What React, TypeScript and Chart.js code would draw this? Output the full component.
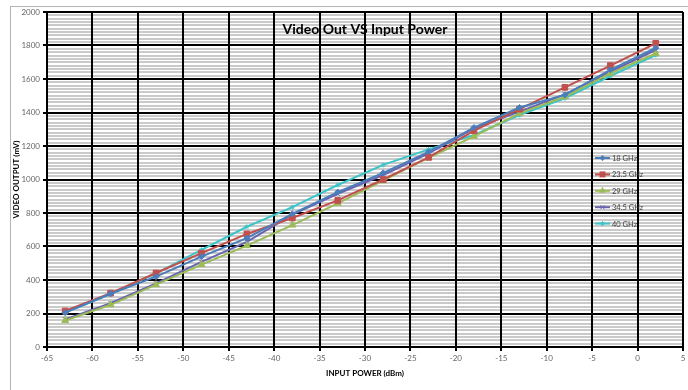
import React, { useEffect, useRef } from 'react';
import { Chart, registerables } from 'chart.js';

Chart.register(...registerables);

const inputPower = [-63, -58, -53, -48, -43, -38, -33, -28, -23, -18, -13, -8, -3, 2];
const seriesNames = ['18 GHz', '23.5 GHz', '29 GHz', '34.5 GHz', '40 GHz'];
const out18 = [205, 318, 420, 540, 650, 795, 925, 1040, 1165, 1310, 1430, 1505, 1655, 1785];
const out235 = [215, 322, 442, 560, 675, 770, 875, 1000, 1132, 1292, 1420, 1550, 1680, 1813];
const out29 = [158, 252, 372, 492, 605, 728, 858, 993, 1130, 1258, 1395, 1494, 1634, 1752];
const out345 = [165, 262, 380, 508, 628, 790, 915, 1027, 1156, 1305, 1405, 1508, 1644, 1773];
const out40 = [205, 316, 440, 580, 718, 835, 967, 1087, 1180, 1266, 1385, 1485, 1618, 1743];
const seriesValues = [out18, out235, out29, out345, out40];

const chartTitle = 'Video Out VS Input Power';
const xAxisTitle = 'INPUT POWER (dBm)';
const yAxisTitle = 'VIDEO OUTPUT (mV)';

const colors = ['#4a7ebb', '#c0504d', '#9bbb59', '#6a64b0', '#3cc4c8'];
const pointStyles = ['rectRot', 'rect', 'triangle', 'crossRot', 'star'];
const pointRadii = [3, 4, 4, 3, 2.5];

function drawMarker(ctx: CanvasRenderingContext2D, style: string, x: number, y: number, r: number, color: string) {
  ctx.save();
  ctx.fillStyle = color;
  ctx.strokeStyle = color;
  ctx.lineWidth = 1;
  ctx.beginPath();
  if (style === 'rectRot') {
    ctx.moveTo(x, y - r); ctx.lineTo(x + r, y); ctx.lineTo(x, y + r); ctx.lineTo(x - r, y); ctx.closePath();
    ctx.fill();
  } else if (style === 'rect') {
    ctx.rect(x - r * 0.75, y - r * 0.75, r * 1.5, r * 1.5);
    ctx.fill();
  } else if (style === 'triangle') {
    ctx.moveTo(x, y - r); ctx.lineTo(x + r * 0.87, y + r * 0.5); ctx.lineTo(x - r * 0.87, y + r * 0.5); ctx.closePath();
    ctx.fill();
  } else if (style === 'crossRot') {
    ctx.moveTo(x - r * 0.7, y - r * 0.7); ctx.lineTo(x + r * 0.7, y + r * 0.7);
    ctx.moveTo(x + r * 0.7, y - r * 0.7); ctx.lineTo(x - r * 0.7, y + r * 0.7);
    ctx.stroke();
  } else {
    ctx.moveTo(x - r, y); ctx.lineTo(x + r, y);
    ctx.moveTo(x, y - r); ctx.lineTo(x, y + r);
    ctx.moveTo(x - r * 0.7, y - r * 0.7); ctx.lineTo(x + r * 0.7, y + r * 0.7);
    ctx.moveTo(x + r * 0.7, y - r * 0.7); ctx.lineTo(x - r * 0.7, y + r * 0.7);
    ctx.stroke();
  }
  ctx.restore();
}

const decorPlugin = {
  id: 'decor',
  afterDraw(chart: any) {
    const ctx: CanvasRenderingContext2D = chart.ctx;
    const a = chart.chartArea;
    ctx.save();
    ctx.strokeStyle = '#b4b4b4';
    ctx.lineWidth = 1;
    ctx.strokeRect(10.5, 6.5, 800, 500);

    ctx.fillStyle = '#000';
    ctx.textAlign = 'center';
    ctx.textBaseline = 'middle';
    ctx.font = 'bold 14px Lato';
    ctx.fillText(chartTitle, (a.left + a.right) / 2, a.top + 17);

    ctx.font = 'bold 8px Lato';
    ctx.fillText(xAxisTitle, (a.left + a.right) / 2, a.bottom + 26);

    ctx.save();
    ctx.translate(16, (a.top + a.bottom) / 2);
    ctx.rotate(-Math.PI / 2);
    ctx.fillText(yAxisTitle, 0, 0);
    ctx.restore();

    // legend
    const lx = a.left + 548;
    const ly = a.top + 146;
    ctx.font = '7.5px Lato';
    ctx.textAlign = 'left';
    for (let i = 0; i < seriesNames.length; i++) {
      const y = ly + i * 16.4;
      ctx.strokeStyle = colors[i];
      ctx.lineWidth = 2;
      ctx.beginPath();
      ctx.moveTo(lx, y);
      ctx.lineTo(lx + 15, y);
      ctx.stroke();
      drawMarker(ctx, pointStyles[i], lx + 7.5, y, pointRadii[i], colors[i]);
      ctx.fillStyle = '#404040';
      ctx.fillText(seriesNames[i], lx + 17, y + 0.5);
    }
    ctx.restore();
  },
};

export default function App() {
  const ref = useRef<HTMLCanvasElement | null>(null);
  useEffect(() => {
    if (!ref.current) return;
    const tickFont = { family: 'Lato', size: 8 };
    const isMajor = (c: any) => Math.round(c.tick.value) % 200 === 0;
    const chart = new Chart(ref.current, {
      type: 'line',
      data: {
        datasets: seriesNames.map((name, i) => ({
          label: name,
          data: inputPower.map((x, j) => ({ x, y: seriesValues[i][j] })),
          borderColor: colors[i],
          backgroundColor: colors[i],
          borderWidth: 2,
          pointStyle: pointStyles[i] as any,
          pointRadius: pointRadii[i],
          pointBorderWidth: 1,
          pointBorderColor: colors[i],
          pointBackgroundColor: colors[i],
          tension: 0,
          fill: false,
        })),
      },
      options: {
        animation: false,
        responsive: false,
        layout: { padding: { top: 12, right: 1, left: 0, bottom: 0 } },
        plugins: {
          legend: { display: false },
          title: { display: false },
          tooltip: { enabled: false },
        },
        scales: {
          x: {
            type: 'linear',
            min: -65,
            max: 5,
            ticks: { stepSize: 5, font: tickFont, color: '#666', padding: 3, maxRotation: 0, autoSkip: false },
            grid: { color: '#000', lineWidth: 2, tickLength: 4, z: -1 },
            border: { color: '#000', width: 2 },
            afterFit: (s: any) => {
              s.height = 43;
              s.paddingLeft = 0;
              s.paddingRight = 0;
            },
          },
          y: {
            type: 'linear',
            min: 0,
            max: 2000,
            ticks: {
              stepSize: 20,
              autoSkip: false,
              font: tickFont,
              color: '#666',
              padding: 3,
              callback: (v: any) => (Math.round(Number(v)) % 200 === 0 ? String(Math.round(Number(v))) : ''),
            },
            grid: {
              color: (c: any) => (isMajor(c) ? '#000' : '#cacaca'),
              tickColor: (c: any) => (isMajor(c) ? '#000' : 'rgba(0,0,0,0)'),
              lineWidth: 2,
              tickLength: 4,
              z: -2,
            },
            border: { color: '#000', width: 2 },
            afterFit: (s: any) => {
              s.width = 47;
              s.paddingTop = 0;
              s.paddingBottom = 0;
            },
          },
        },
      },
      plugins: [decorPlugin],
    });
    return () => chart.destroy();
  }, []);
  return (
    <div style={{ position: 'fixed', left: 0, top: 0, width: 688, height: 390, background: '#fff' }}>
      <canvas ref={ref} width={688} height={390} style={{ display: 'block' }} />
    </div>
  );
}
